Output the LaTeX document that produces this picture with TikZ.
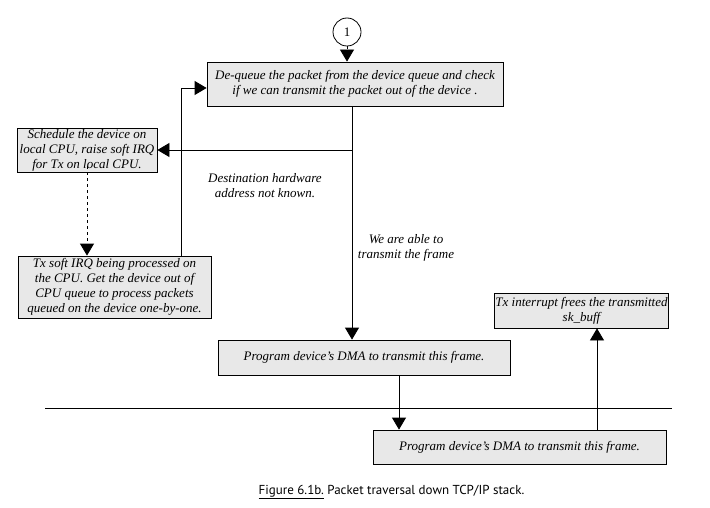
\documentclass[tikz,border=0pt]{standalone}
\usepackage{fontspec}
\setmainfont{Liberation Serif}
\newfontfamily\capfont{PT Sans}
\usetikzlibrary{arrows.meta}
\begin{document}
\begin{tikzpicture}[x=1pt, y=-1pt, line width=0.8pt,
	box/.style={draw, fill=black!9, align=center, inner sep=1pt, font=\fontsize{13}{15}\selectfont\itshape},
	lbl/.style={align=center, font=\fontsize{13}{15}\selectfont\itshape},
	tip/.style={-{Triangle[width=14pt,length=12pt]}}]
	\useasboundingbox (0,0) rectangle (710,508);
	\node[draw, circle, minimum size=28pt, inner sep=0pt, font=\fontsize{13}{15}\selectfont] (C) at (347,32) {1};
	\node[box, minimum width=296pt, minimum height=44pt] (Q) at (355,84) {De-queue the packet from the device queue and check\\ if we can transmit the packet out of the device .};
	\node[box, minimum width=140pt, minimum height=44pt] (S) at (87,150) {Schedule the device on\\ local CPU, raise soft IRQ\\ for Tx on local CPU.};
	\node[box, minimum width=193pt, minimum height=62pt] (T) at (114.5,287) {Tx soft IRQ being processed on\\ the CPU. Get the device out of\\ CPU queue to process packets\\ queued on the device one-by-one.};
	\node[box, minimum width=292pt, minimum height=35pt] (M) at (364,357.5) {Program device's DMA to transmit this frame.};
	\node[box, minimum width=171pt, minimum height=35pt] (F) at (581.5,310.5) {Tx interrupt frees the transmitted\\ sk\_buff};
	\node[box, minimum width=293pt, minimum height=34pt] (P) at (519.5,447) {Program device's DMA to transmit this frame.};
	\node[lbl] (L1) at (265,186) {Destination hardware\\ address not known.};
	\node[lbl] (L2) at (406,248) {We are able to\\ transmit the frame};
	\coordinate (split) at (352,150);
	\coordinate (back) at (181,88);
	\coordinate (down) at (399,0);
	\coordinate (up) at (597,0);
	\coordinate (W) at (45,408);
	\coordinate (E) at (672,408);
	\draw[tip, dashed] (C) -- (C |- Q.north);
	\draw[tip] (Q.south -| split) -- (M.north -| split);
	\draw[tip] (split) -- (S.east |- split);
	\draw[tip, dashed] ([yshift=6pt]S.south) -- (S.south |- T.north);
	\draw[tip] (T.north -| back) |- (Q.west |- back);
	\draw (W) -- (E);
	\draw[tip] (M.south -| down) -- (P.north -| down);
	\draw[tip] (P.north -| up) -- (F.south -| up);
	\node[font=\capfont\fontsize{13}{15}\selectfont] (cap) at (391.5,492) {\underline{Figure 6.1b.} Packet traversal down TCP/IP stack.};
\end{tikzpicture}
\end{document}
